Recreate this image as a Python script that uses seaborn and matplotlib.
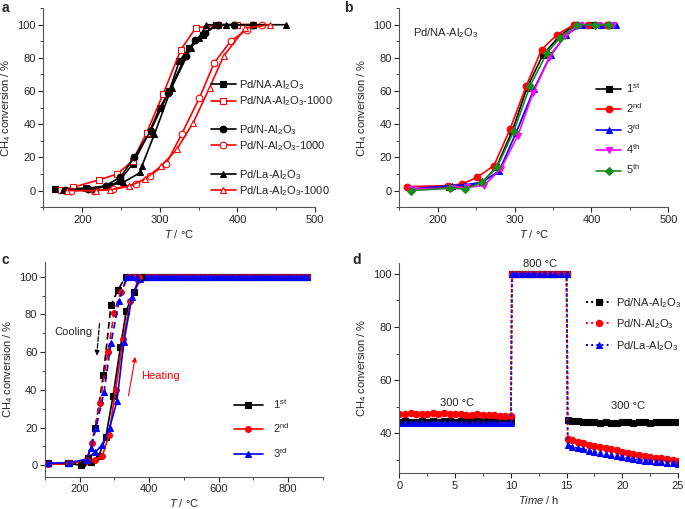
import matplotlib
matplotlib.use('Agg')
import matplotlib.pyplot as plt
import seaborn as sns
from matplotlib.lines import Line2D
from matplotlib.ticker import AutoMinorLocator

# ---- panel a: light-off curves, fresh vs aged at 1000 C ----
a_T_na = [165, 205, 235, 248, 265, 285, 300, 312, 325, 338, 355, 372, 398, 420]
a_na = [1, 1.5, 2.5, 6, 16, 34, 50, 60, 78, 86, 94, 100, 100, 100]
a_T_na1000 = [173, 188, 222, 245, 265, 283, 304, 327, 346, 375, 400, 420]
a_na1000 = [0.5, 2, 6.5, 10, 18, 35, 58, 85, 98, 100, 100, 100]
a_T_n = [178, 207, 230, 249, 267, 288, 311, 333, 345, 358, 375, 395, 420]
a_n = [0.5, 1, 3, 8, 20, 36, 59, 81, 91, 95, 100, 100, 100]
a_T_n1000 = [186, 215, 240, 269, 287, 308, 328, 351, 370, 391, 412, 432]
a_n1000 = [0, 0, 1, 4, 9, 16, 34, 56, 77, 90, 97, 100]
a_T_la = [175, 216, 253, 275, 277, 293, 315, 340, 350, 360, 385, 420, 462]
a_la = [0.5, 1, 5, 11, 15, 34, 62, 86, 92, 100, 100, 100, 100]
a_T_la1000 = [180, 218, 236, 260, 281, 302, 322, 343, 364, 382, 410, 442]
a_la1000 = [0, 0, 0.5, 2.5, 7, 15, 25, 41, 62, 81, 98, 100]

# ---- panel b: five consecutive runs on Pd/NA-Al2O3 ----
b_T1 = [165, 215, 236, 258, 276, 297, 316, 337, 358, 378, 400, 424]
b_run1 = [1, 2, 2, 5, 14, 36, 62, 82, 93, 100, 100, 100]
b_T2 = [160, 213, 232, 251, 273, 294, 315, 335, 355, 377, 396, 420]
b_run2 = [2.4, 3, 4, 8, 15, 37, 63, 85, 94, 100, 100, 100]
b_T3 = [165, 218, 236, 258, 280, 302, 325, 347, 367, 388, 412, 432]
b_run3 = [1, 3, 3.5, 5, 12, 35, 61, 82, 94, 100, 100, 100]
b_T4 = [165, 218, 238, 260, 282, 304, 324, 345, 365, 385, 408, 428]
b_run4 = [1, 1.5, 2, 3, 13, 33, 59, 80, 93, 100, 100, 100]
b_T5 = [165, 216, 236, 258, 277, 299, 320, 342, 359, 381, 404, 423]
b_run5 = [0, 1.4, 1, 5, 14, 36, 63, 83, 92, 100, 100, 100]

# ---- panel c: heating (solid) and cooling (dashed) cycles ----
c_plateau_T = [390, 402, 414, 426, 438, 450, 462, 474, 486, 498, 510, 522, 534, 546, 558, 570,
               582, 594, 606, 618, 630, 642, 654, 666, 678, 690, 702, 714, 726, 738, 750, 762,
               774, 786, 798, 810, 822, 834, 846, 855]
c_plateau = [100] * len(c_plateau_T)
c_heat1_T = [108, 170, 205, 233, 255, 275, 296, 317, 334, 356, 378]
c_heat1 = [1, 1, 0, 2, 5, 15, 37, 62.5, 82, 92, 100]
c_heat2_T = [108, 170, 215, 245, 265, 284, 303, 325, 346, 368, 380]
c_heat2 = [0.5, 1, 2, 3, 5, 16, 40, 67, 87, 98, 100]
c_heat3_T = [108, 170, 215, 245, 265, 286, 307, 327, 350, 372, 382]
c_heat3 = [1, 1.5, 3, 7, 11, 20, 34, 65.5, 89, 99, 100]
c_cool1_T = [108, 165, 207, 223, 245, 268, 290, 310, 332, 345, 360, 375]
c_cool1 = [1, 1, 1, 4, 20, 48, 85, 93, 100, 100, 100, 100]
c_cool2_T = [108, 170, 220, 235, 258, 281, 299, 318, 340, 355, 370]
c_cool2 = [0.5, 1, 3, 12, 33, 60, 81, 92, 100, 100, 100]
c_cool3_T = [108, 170, 220, 232, 247, 270, 290, 313, 335, 350, 365]
c_cool3 = [1, 1.5, 3, 9, 20, 39, 65, 87, 100, 100, 100]

# ---- panel d: 300 C -> 800 C -> 300 C stability ----
d_t = [0, 0.5, 1, 1.5, 2, 2.5, 3, 3.5, 4, 4.5, 5, 5.5, 6, 6.5, 7, 7.5, 8, 8.5, 9, 9.5, 10,
       10.1, 10.5, 11, 11.5, 12, 12.5, 13, 13.5, 14, 14.5, 15,
       15.1, 15.5, 16, 16.5, 17, 17.5, 18, 18.5, 19, 19.5, 20, 20.5, 21, 21.5, 22, 22.5, 23,
       23.5, 24, 24.5, 25]
d_hot = [100, 100, 100, 100, 100, 100, 100, 100, 100, 100, 100]
d_na = ([44.4, 44.5, 44.3, 44.4, 44.6, 44.4, 44.5, 44.3, 44.5, 44.6, 44.4, 44.5, 44.7, 44.5,
         44.6, 44.5, 44.7, 44.6, 44.5, 44.7, 44.6] + d_hot +
        [45.0, 44.8, 44.5, 44.3, 44.2, 44.3, 44.1, 44.2, 44.0, 44.1, 44.3, 44.2, 44.0, 44.2,
         44.3, 44.1, 44.2, 44.4, 44.2, 44.3, 44.2])
d_n = ([47.4, 47.3, 47.5, 47.2, 47.4, 47.3, 47.5, 47.4, 47.6, 47.3, 47.2, 47.4, 47.1, 47.0,
        47.2, 46.9, 46.8, 46.9, 46.7, 46.6, 46.5] + d_hot +
       [38.0, 37.4, 36.8, 36.3, 35.8, 35.3, 34.8, 34.4, 34.0, 33.6, 33.2, 32.8, 32.4, 32.0,
        31.6, 31.3, 30.9, 30.6, 30.3, 30.0, 29.7])
d_la = ([44.1, 44.0, 43.9, 44.0, 43.9, 43.8, 43.9, 44.0, 43.8, 43.9, 44.0, 43.9, 43.8, 43.9,
         44.0, 43.9, 43.9, 44.0, 43.9, 44.0, 43.9] + d_hot +
        [35.6, 35.0, 34.5, 34.0, 33.5, 33.0, 32.6, 32.2, 31.8, 31.4, 31.0, 30.7, 30.4, 30.1,
         29.8, 29.6, 29.4, 29.2, 29.0, 28.8, 28.6])

sns.set_style('ticks')
plt.rcParams['font.family'] = ['Liberation Sans', 'DejaVu Sans']
plt.rcParams['mathtext.fontset'] = 'custom'
plt.rcParams['mathtext.rm'] = 'Liberation Sans'
plt.rcParams['mathtext.it'] = 'Liberation Sans:italic'
plt.rcParams['mathtext.default'] = 'regular'
plt.rcParams['font.size'] = 8
plt.rcParams['axes.linewidth'] = 0.8
plt.rcParams['xtick.direction'] = 'out'
plt.rcParams['ytick.direction'] = 'out'

RED, BLUE, MAG, GRN = '#ff0000', '#0000ff', '#ff00ff', '#1a8a1a'
ylab = 'CH$_4$ conversion / %'

fig = plt.figure(figsize=(6.85, 5.09), dpi=100)
ax_a = fig.add_axes([0.0635, 0.593, 0.3965, 0.391])
ax_b = fig.add_axes([0.583, 0.593, 0.3927, 0.391])
ax_c = fig.add_axes([0.0657, 0.0635, 0.4058, 0.4225])
ax_d = fig.add_axes([0.583, 0.070, 0.4069, 0.413])


def curve(ax, x, y, color, marker, label, open_marker=False, ls='-', ms=4.8, lw=1.2):
    sns.lineplot(x=x, y=y, ax=ax, color=color, marker=marker, markersize=ms,
                 markerfacecolor='white' if open_marker else color, markeredgecolor=color,
                 markeredgewidth=0.8, linewidth=lw, linestyle=ls, label=label,
                 sort=False, estimator=None)


# panel a
curve(ax_a, a_T_na, a_na, 'black', 's', 'Pd/NA-Al$_2$O$_3$')
curve(ax_a, a_T_na1000, a_na1000, RED, 's', 'Pd/NA-Al$_2$O$_3$-1000', open_marker=True)
curve(ax_a, a_T_n, a_n, 'black', 'o', 'Pd/N-Al$_2$O$_3$')
curve(ax_a, a_T_n1000, a_n1000, RED, 'o', 'Pd/N-Al$_2$O$_3$-1000', open_marker=True)
curve(ax_a, a_T_la, a_la, 'black', '^', 'Pd/La-Al$_2$O$_3$')
curve(ax_a, a_T_la1000, a_la1000, RED, '^', 'Pd/La-Al$_2$O$_3$-1000', open_marker=True)
h, l = ax_a.get_legend_handles_labels()
blank = Line2D([], [], alpha=0)
h = h[:2] + [blank] + h[2:4] + [blank] + h[4:]
l = l[:2] + [' '] + l[2:4] + [' '] + l[4:]
ax_a.legend(h, l, loc='upper left', bbox_to_anchor=(0.615, 0.648), frameon=False,
            handlelength=2.3, handletextpad=0.3, labelspacing=0.22, borderpad=0,
            borderaxespad=0, fontsize=8)
ax_a.set_xlim(150, 500)
ax_a.set_ylim(-10, 110)
ax_a.set_xticks([200, 300, 400, 500])

# panel b
curve(ax_b, b_T1, b_run1, 'black', 's', '1$^{st}$')
curve(ax_b, b_T2, b_run2, RED, 'o', '2$^{nd}$')
curve(ax_b, b_T3, b_run3, BLUE, '^', '3$^{rd}$')
curve(ax_b, b_T4, b_run4, MAG, 'v', '4$^{th}$')
curve(ax_b, b_T5, b_run5, GRN, 'D', '5$^{th}$', ms=4.2)
ax_b.legend(loc='upper left', bbox_to_anchor=(0.73, 0.635), frameon=False,
            handlelength=2.3, handletextpad=0.4, labelspacing=0.6, borderpad=0,
            borderaxespad=0, fontsize=8)
ax_b.text(0.052, 0.874, 'Pd/NA-Al$_2$O$_3$', transform=ax_b.transAxes, va='center', ha='left')
ax_b.set_xlim(150, 500)
ax_b.set_ylim(-10, 110)
ax_b.set_xticks([200, 300, 400, 500])

# panel c
curve(ax_c, c_heat1_T + c_plateau_T, c_heat1 + c_plateau, 'black', 's', '1$^{st}$', ms=4.2)
curve(ax_c, c_heat2_T + c_plateau_T, c_heat2 + c_plateau, RED, 'o', '2$^{nd}$', ms=4.2)
curve(ax_c, c_heat3_T + c_plateau_T, c_heat3 + c_plateau, BLUE, '^', '3$^{rd}$', ms=4.2)
curve(ax_c, c_cool1_T, c_cool1, 'black', 's', None, ls=(0, (4, 2.5)), ms=4.2)
curve(ax_c, c_cool2_T, c_cool2, RED, 'o', None, ls=(0, (4, 2.5)), ms=4.2)
curve(ax_c, c_cool3_T, c_cool3, BLUE, '^', None, ls=(0, (4, 2.5)), ms=4.2)
ax_c.legend(loc='upper left', bbox_to_anchor=(0.68, 0.37), frameon=False,
            handlelength=2.6, handletextpad=0.9, labelspacing=0.95, borderpad=0,
            borderaxespad=0, fontsize=8)
ax_c.text(128, 70.6, 'Cooling', va='center', ha='left')
ax_c.annotate('', xy=(248, 56.7), xytext=(257.5, 76.6),
              arrowprops=dict(arrowstyle='-|>', color='black', lw=0.9, ls='--',
                              mutation_scale=7))
ax_c.text(377, 47.3, 'Heating', va='center', ha='left', color=RED)
ax_c.annotate('', xy=(361, 59), xytext=(339, 35.4),
              arrowprops=dict(arrowstyle='-|>', color=RED, lw=0.8, mutation_scale=7))
ax_c.set_xlim(100, 900)
ax_c.set_ylim(-6, 108)
ax_c.set_xticks([200, 400, 600, 800])

# panel d
curve(ax_d, d_t, d_na, 'black', 's', 'Pd/NA-Al$_2$O$_3$', ls=':', ms=4.6, lw=1.4)
curve(ax_d, d_t, d_n, RED, 'o', 'Pd/N-Al$_2$O$_3$', ls=':', ms=4.6, lw=1.4)
curve(ax_d, d_t, d_la, BLUE, '^', 'Pd/La-Al$_2$O$_3$', ls=':', ms=4.6, lw=1.4)
ax_d.legend(loc='upper left', bbox_to_anchor=(0.668, 0.845), frameon=False,
            handlelength=2.4, handletextpad=0.3, labelspacing=0.7, borderpad=0,
            borderaxespad=0, fontsize=8)
ax_d.text(12.6, 103.8, '800 °C', ha='center', va='center')
ax_d.text(5.15, 51.3, '300 °C', ha='center', va='center')
ax_d.text(20.5, 50.4, '300 °C', ha='center', va='center')
ax_d.set_xlim(0, 25)
ax_d.set_ylim(25, 104)
ax_d.set_xticks([0, 5, 10, 15, 20, 25])
ax_d.set_yticks([40, 60, 80, 100])

for ax in (ax_a, ax_b, ax_c):
    ax.set_yticks([0, 20, 40, 60, 80, 100])
    ax.set_xlabel('$\\mathit{T}$ / °C', labelpad=2)
ax_d.set_xlabel('$\\mathit{Time}$ / h', labelpad=2)

for ax in (ax_a, ax_b, ax_c, ax_d):
    sns.despine(ax=ax)
    ax.set_ylabel(ylab, labelpad=3)
    ax.xaxis.set_minor_locator(AutoMinorLocator(2))
    ax.yaxis.set_minor_locator(AutoMinorLocator(2))
    ax.tick_params(which='major', length=3.5, width=0.8, labelsize=8, pad=2)
    ax.tick_params(which='minor', length=2, width=0.6)
    for sp in ax.spines.values():
        sp.set_color('#555555')

for lab, x, y in (('a', 0.002, 0.985), ('b', 0.502, 0.985), ('c', 0.002, 0.49), ('d', 0.515, 0.49)):
    fig.text(x, y, lab, fontsize=10, fontweight='bold', va='center', ha='left')

fig.savefig('out.png', dpi=100)
